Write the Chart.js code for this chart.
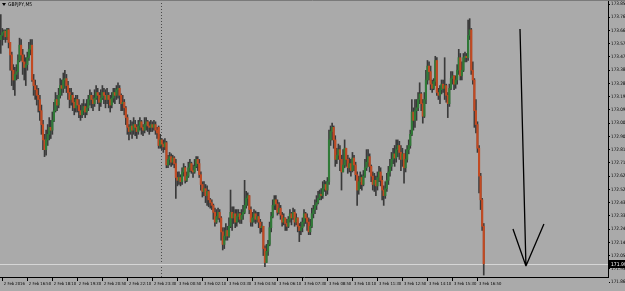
<!DOCTYPE html>
<html>
<head>
<meta charset="utf-8">
<script src="https://cdn.jsdelivr.net/npm/chart.js@4.4.0/dist/chart.umd.min.js"></script>
<style>
	body { margin: 0; background: #aaaaaa; }
	canvas { display: block; }
</style>
</head>
<body>
<canvas id="chartDisplay" width="625" height="291"></canvas>
<script>
// GBPJPY M5, 2 Feb 2016 15:25 -> 3 Feb 2016 17:10 (310 bars)
const symbolName = "GBPJPY,M5";

const opens = [
	173.60,173.63,173.65,173.66,173.62,173.67,173.58,173.49,173.38,173.31,
	173.35,173.37,173.45,173.56,173.49,173.44,173.40,173.42,173.47,173.53,
	173.56,173.31,173.27,173.24,173.20,173.17,173.09,172.99,172.88,172.81,
	172.88,172.92,172.97,172.95,173.02,173.09,173.17,173.13,173.20,173.27,
	173.25,173.31,173.32,173.27,173.22,173.17,173.20,173.15,173.11,173.17,
	173.13,173.09,173.06,173.09,173.12,173.08,173.11,173.17,173.20,173.17,
	173.14,173.18,173.22,173.20,173.15,173.18,173.22,173.20,173.17,173.20,
	173.17,173.13,173.18,173.22,173.20,173.24,173.25,173.20,173.14,173.15,
	173.11,173.04,172.97,172.94,172.98,172.95,172.99,172.97,172.94,172.98,
	173.01,172.97,172.95,172.99,173.01,172.98,172.97,172.99,172.97,172.99,
	172.95,172.97,172.84,172.88,172.85,172.83,172.86,172.70,172.74,172.76,
	172.72,172.75,172.71,172.61,172.59,172.61,172.58,172.65,172.68,172.59,
	172.62,172.68,172.71,172.66,172.65,172.69,172.74,172.71,172.63,172.56,
	172.51,172.53,172.48,172.51,172.45,172.43,172.41,172.36,172.29,172.33,
	172.36,172.32,172.22,172.13,172.19,172.23,172.19,172.26,172.36,172.32,
	172.35,172.29,172.33,172.35,172.31,172.34,172.36,172.41,172.46,172.48,
	172.38,172.29,172.32,172.35,172.31,172.33,172.29,172.25,172.26,172.10,
	172.00,172.08,172.13,172.25,172.33,172.41,172.45,172.42,172.36,172.39,
	172.34,172.29,172.32,172.28,172.26,172.31,172.35,172.32,172.36,172.29,
	172.32,172.26,172.23,172.25,172.29,172.35,172.32,172.29,172.22,172.26,
	172.35,172.38,172.41,172.43,172.46,172.49,172.48,172.53,172.56,172.52,
	172.58,172.88,172.94,172.97,172.88,172.74,172.77,172.81,172.74,172.65,
	172.70,172.82,172.74,172.68,172.71,172.66,172.75,172.70,172.63,172.52,
	172.58,172.61,172.56,172.62,172.68,172.72,172.76,172.69,172.62,172.56,
	172.59,172.55,172.61,172.65,172.59,172.52,172.48,172.53,172.59,172.65,
	172.69,172.74,172.78,172.75,172.81,172.84,172.79,172.74,172.78,172.68,
	172.74,172.81,172.84,172.92,173.08,173.02,173.09,173.11,173.17,173.21,
	173.14,173.05,173.17,173.31,173.41,173.37,173.28,173.25,173.30,173.45,
	173.22,173.20,173.24,173.28,173.25,173.27,173.20,173.14,173.25,173.32,
	173.34,173.28,173.31,173.38,173.47,173.34,173.38,173.47,173.48,173.47,
	173.63,173.67,173.38,173.31,173.09,172.99,172.82,172.62,172.45,172.26
];
const highs = [
	173.78,173.68,173.67,173.67,173.68,173.68,173.58,173.51,173.42,173.40,
	173.42,173.49,173.61,173.60,173.53,173.49,173.47,173.51,173.58,173.60,
	173.60,173.35,173.31,173.27,173.25,173.20,173.13,173.02,172.92,172.95,
	172.99,173.04,173.02,173.08,173.15,173.22,173.20,173.25,173.32,173.31,
	173.36,173.38,173.35,173.30,173.25,173.25,173.22,173.18,173.20,173.20,
	173.17,173.13,173.14,173.17,173.14,173.17,173.20,173.24,173.22,173.20,
	173.24,173.27,173.25,173.22,173.24,173.27,173.25,173.24,173.25,173.22,
	173.20,173.22,173.25,173.25,173.27,173.29,173.27,173.21,173.20,173.17,
	173.12,173.06,172.99,173.02,173.01,173.04,173.02,172.99,173.02,173.04,
	173.02,172.99,173.04,173.04,173.02,173.01,173.02,173.01,173.02,173.01,
	172.97,172.98,172.92,172.89,172.88,172.89,172.87,172.77,172.79,172.78,
	172.77,172.76,172.74,172.65,172.65,172.63,172.68,172.71,172.69,172.65,
	172.72,172.74,172.72,172.70,172.74,172.76,172.76,172.74,172.65,172.58,
	172.58,172.56,172.55,172.52,172.46,172.45,172.42,172.39,172.38,172.39,
	172.38,172.33,172.25,172.25,172.28,172.26,172.32,172.52,172.40,172.40,
	172.38,172.38,172.38,172.36,172.38,172.41,172.59,172.51,172.50,172.48,
	172.40,172.36,172.38,172.37,172.36,172.36,172.31,172.29,172.26,172.12,
	172.13,172.16,172.29,172.36,172.45,172.48,172.48,172.45,172.43,172.41,
	172.36,172.35,172.32,172.31,172.33,172.38,172.36,172.39,172.38,172.35,
	172.32,172.28,172.29,172.32,172.38,172.36,172.35,172.32,172.31,172.39,
	172.41,172.45,172.48,172.51,172.52,172.53,172.58,172.59,172.58,172.61,
	172.95,172.98,173.00,172.98,172.91,172.82,172.85,172.84,172.77,172.81,
	172.88,172.82,172.77,172.75,172.74,172.79,172.77,172.72,172.65,172.62,
	172.65,172.63,172.66,172.74,172.81,172.81,172.78,172.70,172.65,172.64,
	172.62,172.65,172.69,172.68,172.62,172.55,172.58,172.64,172.69,172.74,
	172.79,172.82,172.84,172.88,172.88,172.87,172.84,172.82,172.78,172.81,
	172.84,172.88,172.95,173.17,173.11,173.17,173.17,173.22,173.29,173.22,
	173.17,173.22,173.38,173.45,173.44,173.41,173.31,173.32,173.48,173.47,
	173.25,173.27,173.31,173.31,173.47,173.28,173.22,173.28,173.37,173.37,
	173.34,173.34,173.42,173.53,173.50,173.44,173.50,173.51,173.50,173.74,
	173.75,173.68,173.44,173.32,173.17,173.01,172.84,172.64,172.46,172.28
];
const lows = [
	173.50,173.56,173.60,173.58,173.60,173.54,173.38,173.27,173.24,173.20,
	173.31,173.32,173.44,173.45,173.35,173.31,173.27,173.38,173.45,173.49,
	173.30,173.20,173.17,173.13,173.08,173.02,172.92,172.81,172.76,172.77,
	172.84,172.88,172.89,172.92,173.01,173.08,173.09,173.11,173.18,173.20,
	173.22,173.25,173.22,173.17,173.11,173.13,173.09,173.06,173.08,173.08,
	173.04,173.02,173.04,173.06,173.04,173.06,173.09,173.13,173.11,173.09,
	173.12,173.17,173.14,173.09,173.12,173.17,173.14,173.11,173.14,173.11,
	173.08,173.11,173.15,173.14,173.17,173.18,173.14,173.09,173.09,173.06,
	172.99,172.92,172.88,172.92,172.89,172.92,172.91,172.89,172.92,172.95,
	172.92,172.91,172.93,172.95,172.94,172.92,172.94,172.94,172.95,172.92,
	172.89,172.82,172.82,172.81,172.79,172.81,172.68,172.68,172.70,172.69,
	172.70,172.68,172.46,172.55,172.56,172.55,172.56,172.62,172.57,172.58,
	172.61,172.65,172.64,172.61,172.64,172.68,172.66,172.61,172.52,172.47,
	172.48,172.43,172.41,172.40,172.39,172.38,172.31,172.26,172.28,172.31,
	172.29,172.16,172.09,172.10,172.16,172.16,172.18,172.25,172.23,172.28,
	172.25,172.26,172.29,172.28,172.28,172.31,172.35,172.39,172.41,172.35,
	172.26,172.26,172.29,172.28,172.29,172.25,172.21,172.22,172.05,171.97,
	172.00,172.05,172.12,172.22,172.32,172.38,172.38,172.34,172.35,172.31,
	172.26,172.27,172.23,172.23,172.25,172.29,172.27,172.31,172.26,172.27,
	172.22,172.15,172.20,172.22,172.26,172.28,172.23,172.20,172.20,172.25,
	172.32,172.35,172.38,172.42,172.45,172.45,172.46,172.51,172.48,172.49,
	172.56,172.84,172.88,172.82,172.69,172.71,172.74,172.66,172.52,172.65,
	172.68,172.69,172.64,172.65,172.62,172.65,172.66,172.59,172.41,172.49,
	172.53,172.52,172.55,172.61,172.66,172.69,172.65,172.58,172.52,172.51,
	172.48,172.52,172.58,172.55,172.45,172.41,172.46,172.51,172.56,172.62,
	172.66,172.71,172.69,172.72,172.76,172.74,172.66,172.69,172.57,172.65,
	172.72,172.78,172.82,172.91,172.95,172.97,173.02,173.09,173.14,173.09,
	173.00,173.04,173.14,173.28,173.31,173.24,173.22,173.24,173.27,173.20,
	173.17,173.14,173.21,173.22,173.17,173.15,173.04,173.12,173.24,173.28,
	173.24,173.25,173.28,173.35,173.31,173.31,173.37,173.44,173.44,173.45,
	173.60,173.35,173.28,172.97,172.93,172.79,172.50,172.38,172.23,171.91
];
const closes = [
	173.63,173.65,173.66,173.62,173.67,173.58,173.49,173.38,173.31,173.35,
	173.37,173.45,173.56,173.49,173.44,173.40,173.42,173.47,173.53,173.56,
	173.31,173.27,173.24,173.20,173.17,173.09,172.99,172.88,172.81,172.88,
	172.92,172.97,172.95,173.02,173.09,173.17,173.13,173.20,173.27,173.25,
	173.31,173.32,173.27,173.22,173.17,173.20,173.15,173.11,173.17,173.13,
	173.09,173.06,173.09,173.12,173.08,173.11,173.17,173.20,173.17,173.14,
	173.18,173.22,173.20,173.15,173.18,173.22,173.20,173.17,173.20,173.17,
	173.13,173.18,173.22,173.20,173.24,173.25,173.20,173.14,173.15,173.11,
	173.04,172.97,172.94,172.98,172.95,172.99,172.97,172.94,172.98,173.01,
	172.97,172.95,172.99,173.01,172.98,172.97,172.99,172.97,172.99,172.95,
	172.93,172.84,172.88,172.85,172.83,172.86,172.70,172.74,172.76,172.72,
	172.75,172.71,172.61,172.59,172.61,172.58,172.65,172.68,172.59,172.62,
	172.68,172.71,172.66,172.65,172.69,172.74,172.71,172.63,172.56,172.51,
	172.53,172.48,172.51,172.45,172.43,172.41,172.36,172.29,172.33,172.36,
	172.32,172.22,172.13,172.19,172.23,172.19,172.26,172.36,172.32,172.35,
	172.29,172.33,172.35,172.31,172.34,172.36,172.41,172.46,172.48,172.38,
	172.29,172.32,172.35,172.31,172.33,172.29,172.25,172.26,172.10,172.00,
	172.08,172.13,172.25,172.33,172.41,172.45,172.42,172.36,172.39,172.34,
	172.29,172.32,172.28,172.26,172.31,172.35,172.32,172.36,172.29,172.32,
	172.26,172.23,172.25,172.29,172.35,172.32,172.29,172.22,172.26,172.35,
	172.38,172.41,172.43,172.46,172.49,172.48,172.53,172.56,172.52,172.58,
	172.88,172.94,172.97,172.88,172.74,172.77,172.81,172.74,172.65,172.70,
	172.82,172.74,172.68,172.71,172.66,172.75,172.70,172.63,172.52,172.58,
	172.61,172.56,172.62,172.68,172.72,172.76,172.69,172.62,172.56,172.59,
	172.55,172.61,172.65,172.59,172.52,172.48,172.53,172.59,172.65,172.69,
	172.74,172.78,172.75,172.81,172.84,172.79,172.74,172.78,172.68,172.74,
	172.81,172.84,172.92,173.08,173.02,173.09,173.11,173.17,173.21,173.14,
	173.05,173.17,173.31,173.41,173.37,173.28,173.25,173.30,173.45,173.22,
	173.20,173.24,173.28,173.25,173.27,173.20,173.14,173.25,173.32,173.34,
	173.28,173.31,173.38,173.47,173.34,173.38,173.47,173.48,173.47,173.63,
	173.67,173.38,173.31,173.09,172.99,172.82,172.62,172.45,172.26,171.99
];

// time axis: one label every 16 bars (80 min), first one shows the date
const timeLabels = [
	"2 Feb 2016", "2 Feb 16:50", "2 Feb 18:10", "2 Feb 19:30", "2 Feb 20:50",
	"2 Feb 22:10", "2 Feb 23:30", "3 Feb 00:50", "3 Feb 02:10", "3 Feb 03:30",
	"3 Feb 04:50", "3 Feb 06:10", "3 Feb 07:30", "3 Feb 08:50", "3 Feb 10:10",
	"3 Feb 11:30", "3 Feb 12:50", "3 Feb 14:10", "3 Feb 15:30", "3 Feb 16:50"
];
const firstLabelBar = 1;
const labelEvery = 16;
const daySeparatorBar = 103; // 3 Feb 00:00

const priceTicks = [
	173.855, 173.760, 173.665, 173.570, 173.475, 173.380, 173.285, 173.190,
	173.095, 173.000, 172.905, 172.810, 172.715, 172.620, 172.525, 172.430,
	172.335, 172.240, 172.145, 172.050, 171.955, 171.860
];

// hand drawn arrow object (bar index / price anchors)
const arrowShaft = { fromBar: 332.2, fromPrice: 173.676, toBar: 336.0, toPrice: 171.975 };
const arrowWings = [{ bar: 327.7, price: 172.241 }, { bar: 347.5, price: 172.277 }];

const totalSlots = 389; // bars shown incl. empty space on the right
const fontFamily = "'Liberation Sans Narrow', 'DejaVu Sans Condensed', 'Liberation Sans', sans-serif";

var barTimes = [];
var start = Date.UTC(2016, 1, 2, 15, 25);
for (var i = 0; i < totalSlots; i++) {
	var d = new Date(start + i * 5 * 60000);
	barTimes.push(d.getUTCDate() + " Feb " + String(d.getUTCHours()).padStart(2, "0") + ":" + String(d.getUTCMinutes()).padStart(2, "0"));
}

var wickData = [];
var bodyData = [];
var bodyColours = [];
lows.forEach((l, i) => {
	wickData.push([l, highs[i]]);
	bodyData.push([opens[i], closes[i]]);
	bodyColours.push(closes[i] >= opens[i] ? "#2f7a37" : "#c24a22");
});

/**
 * Extra MT4 style bits: separator, bid line, arrow, price box, title
 */
const mtDecor = {
	id: "mtDecor",
	beforeDatasetsDraw(chart) {
		const ctx = chart.ctx;
		const x = chart.scales.x;
		const y = chart.scales.y;
		const area = chart.chartArea;
		ctx.save();
		// day separator
		var sx = Math.round(x.getPixelForValue(daySeparatorBar) - 1) + 0.5;
		ctx.strokeStyle = "#4a4a4a";
		ctx.lineWidth = 1;
		ctx.setLineDash([1, 2]);
		ctx.beginPath();
		ctx.moveTo(sx, area.top);
		ctx.lineTo(sx, area.bottom);
		ctx.stroke();
		ctx.setLineDash([]);
		// bid line
		var by = Math.round(y.getPixelForValue(closes[closes.length - 1])) + 0.5;
		ctx.strokeStyle = "#d6d6d6";
		ctx.beginPath();
		ctx.moveTo(area.left, by);
		ctx.lineTo(area.right, by);
		ctx.stroke();
		ctx.restore();
	},
	afterDraw(chart) {
		const ctx = chart.ctx;
		const x = chart.scales.x;
		const y = chart.scales.y;
		const area = chart.chartArea;
		ctx.save();
		// top frame line
		ctx.strokeStyle = "#7a7a7a";
		ctx.beginPath();
		ctx.moveTo(0, 0.5);
		ctx.lineTo(chart.width, 0.5);
		ctx.stroke();

		// arrow
		ctx.strokeStyle = "#000";
		ctx.lineWidth = 1.3;
		var tipX = x.getPixelForValue(arrowShaft.toBar);
		var tipY = y.getPixelForValue(arrowShaft.toPrice);
		ctx.beginPath();
		ctx.moveTo(x.getPixelForValue(arrowShaft.fromBar), y.getPixelForValue(arrowShaft.fromPrice));
		ctx.lineTo(tipX, tipY);
		arrowWings.forEach(w => {
			ctx.moveTo(x.getPixelForValue(w.bar), y.getPixelForValue(w.price));
			ctx.lineTo(tipX, tipY);
		});
		ctx.stroke();

		// current price box
		var last = closes[closes.length - 1];
		var py = Math.round(y.getPixelForValue(last));
		ctx.fillStyle = "#000";
		ctx.fillRect(area.right + 1, py - 4, chart.width - area.right - 1, 8);
		ctx.fillStyle = "#fff";
		ctx.font = "5px " + fontFamily;
		ctx.textBaseline = "middle";
		ctx.textAlign = "left";
		ctx.fillText(last.toFixed(3), area.right + 3, py + 0.5);

		// title
		ctx.fillStyle = "#000";
		ctx.beginPath();
		ctx.moveTo(2, 3);
		ctx.lineTo(6, 3);
		ctx.lineTo(4, 6);
		ctx.closePath();
		ctx.fill();
		ctx.font = "5px " + fontFamily;
		ctx.fillText(symbolName, 8, 5);
		ctx.restore();
	}
};

new Chart(document.getElementById("chartDisplay"), {
	type: "bar",
	data: {
		labels: barTimes,
		datasets: [{
			label: "Wick",
			data: wickData,
			backgroundColor: "#3a3a3a",
			barThickness: 1,
			grouped: false,
			order: 2
		},
		{
			label: "Body",
			data: bodyData,
			backgroundColor: bodyColours,
			barThickness: 1.5,
			minBarLength: 1,
			grouped: false,
			order: 1
		}]
	},
	options: {
		responsive: false,
		animation: false,
		devicePixelRatio: 1,
		layout: { padding: 0 },
		plugins: {
			legend: { display: false },
			tooltip: { enabled: false }
		},
		scales: {
			x: {
				type: "category",
				offset: true,
				grid: {
					drawOnChartArea: false,
					offset: false,
					tickLength: 4,
					color: "#000"
				},
				border: { color: "#000", width: 1 },
				ticks: {
					autoSkip: false,
					maxRotation: 0,
					minRotation: 0,
					align: "start",
					labelOffset: 1.5,
					padding: 0,
					color: "#000",
					font: { size: 4.2, family: fontFamily },
					callback: (value, index) => timeLabels[index]
				},
				afterBuildTicks: axis => {
					axis.ticks = axis.ticks.filter(t => t.value >= firstLabelBar
						&& (t.value - firstLabelBar) % labelEvery === 0
						&& (t.value - firstLabelBar) / labelEvery < timeLabels.length);
				},
				afterFit: axis => {
					axis.height = 14;
					axis.paddingLeft = 0;
					axis.paddingRight = 0;
				}
			},
			y: {
				position: "right",
				min: 171.896,
				max: 173.884,
				grid: {
					drawOnChartArea: false,
					tickLength: 2,
					color: "#000"
				},
				border: { color: "#000", width: 1 },
				ticks: {
					autoSkip: false,
					padding: 1,
					color: "#000",
					font: { size: 4.6, family: fontFamily },
					callback: v => v.toFixed(3)
				},
				afterBuildTicks: axis => {
					axis.ticks = priceTicks.map(v => ({ value: v }));
				},
				afterFit: axis => {
					axis.width = 17;
					axis.paddingTop = 0;
					axis.paddingBottom = 0;
				}
			}
		}
	},
	plugins: [mtDecor]
});
</script>
</body>
</html>
